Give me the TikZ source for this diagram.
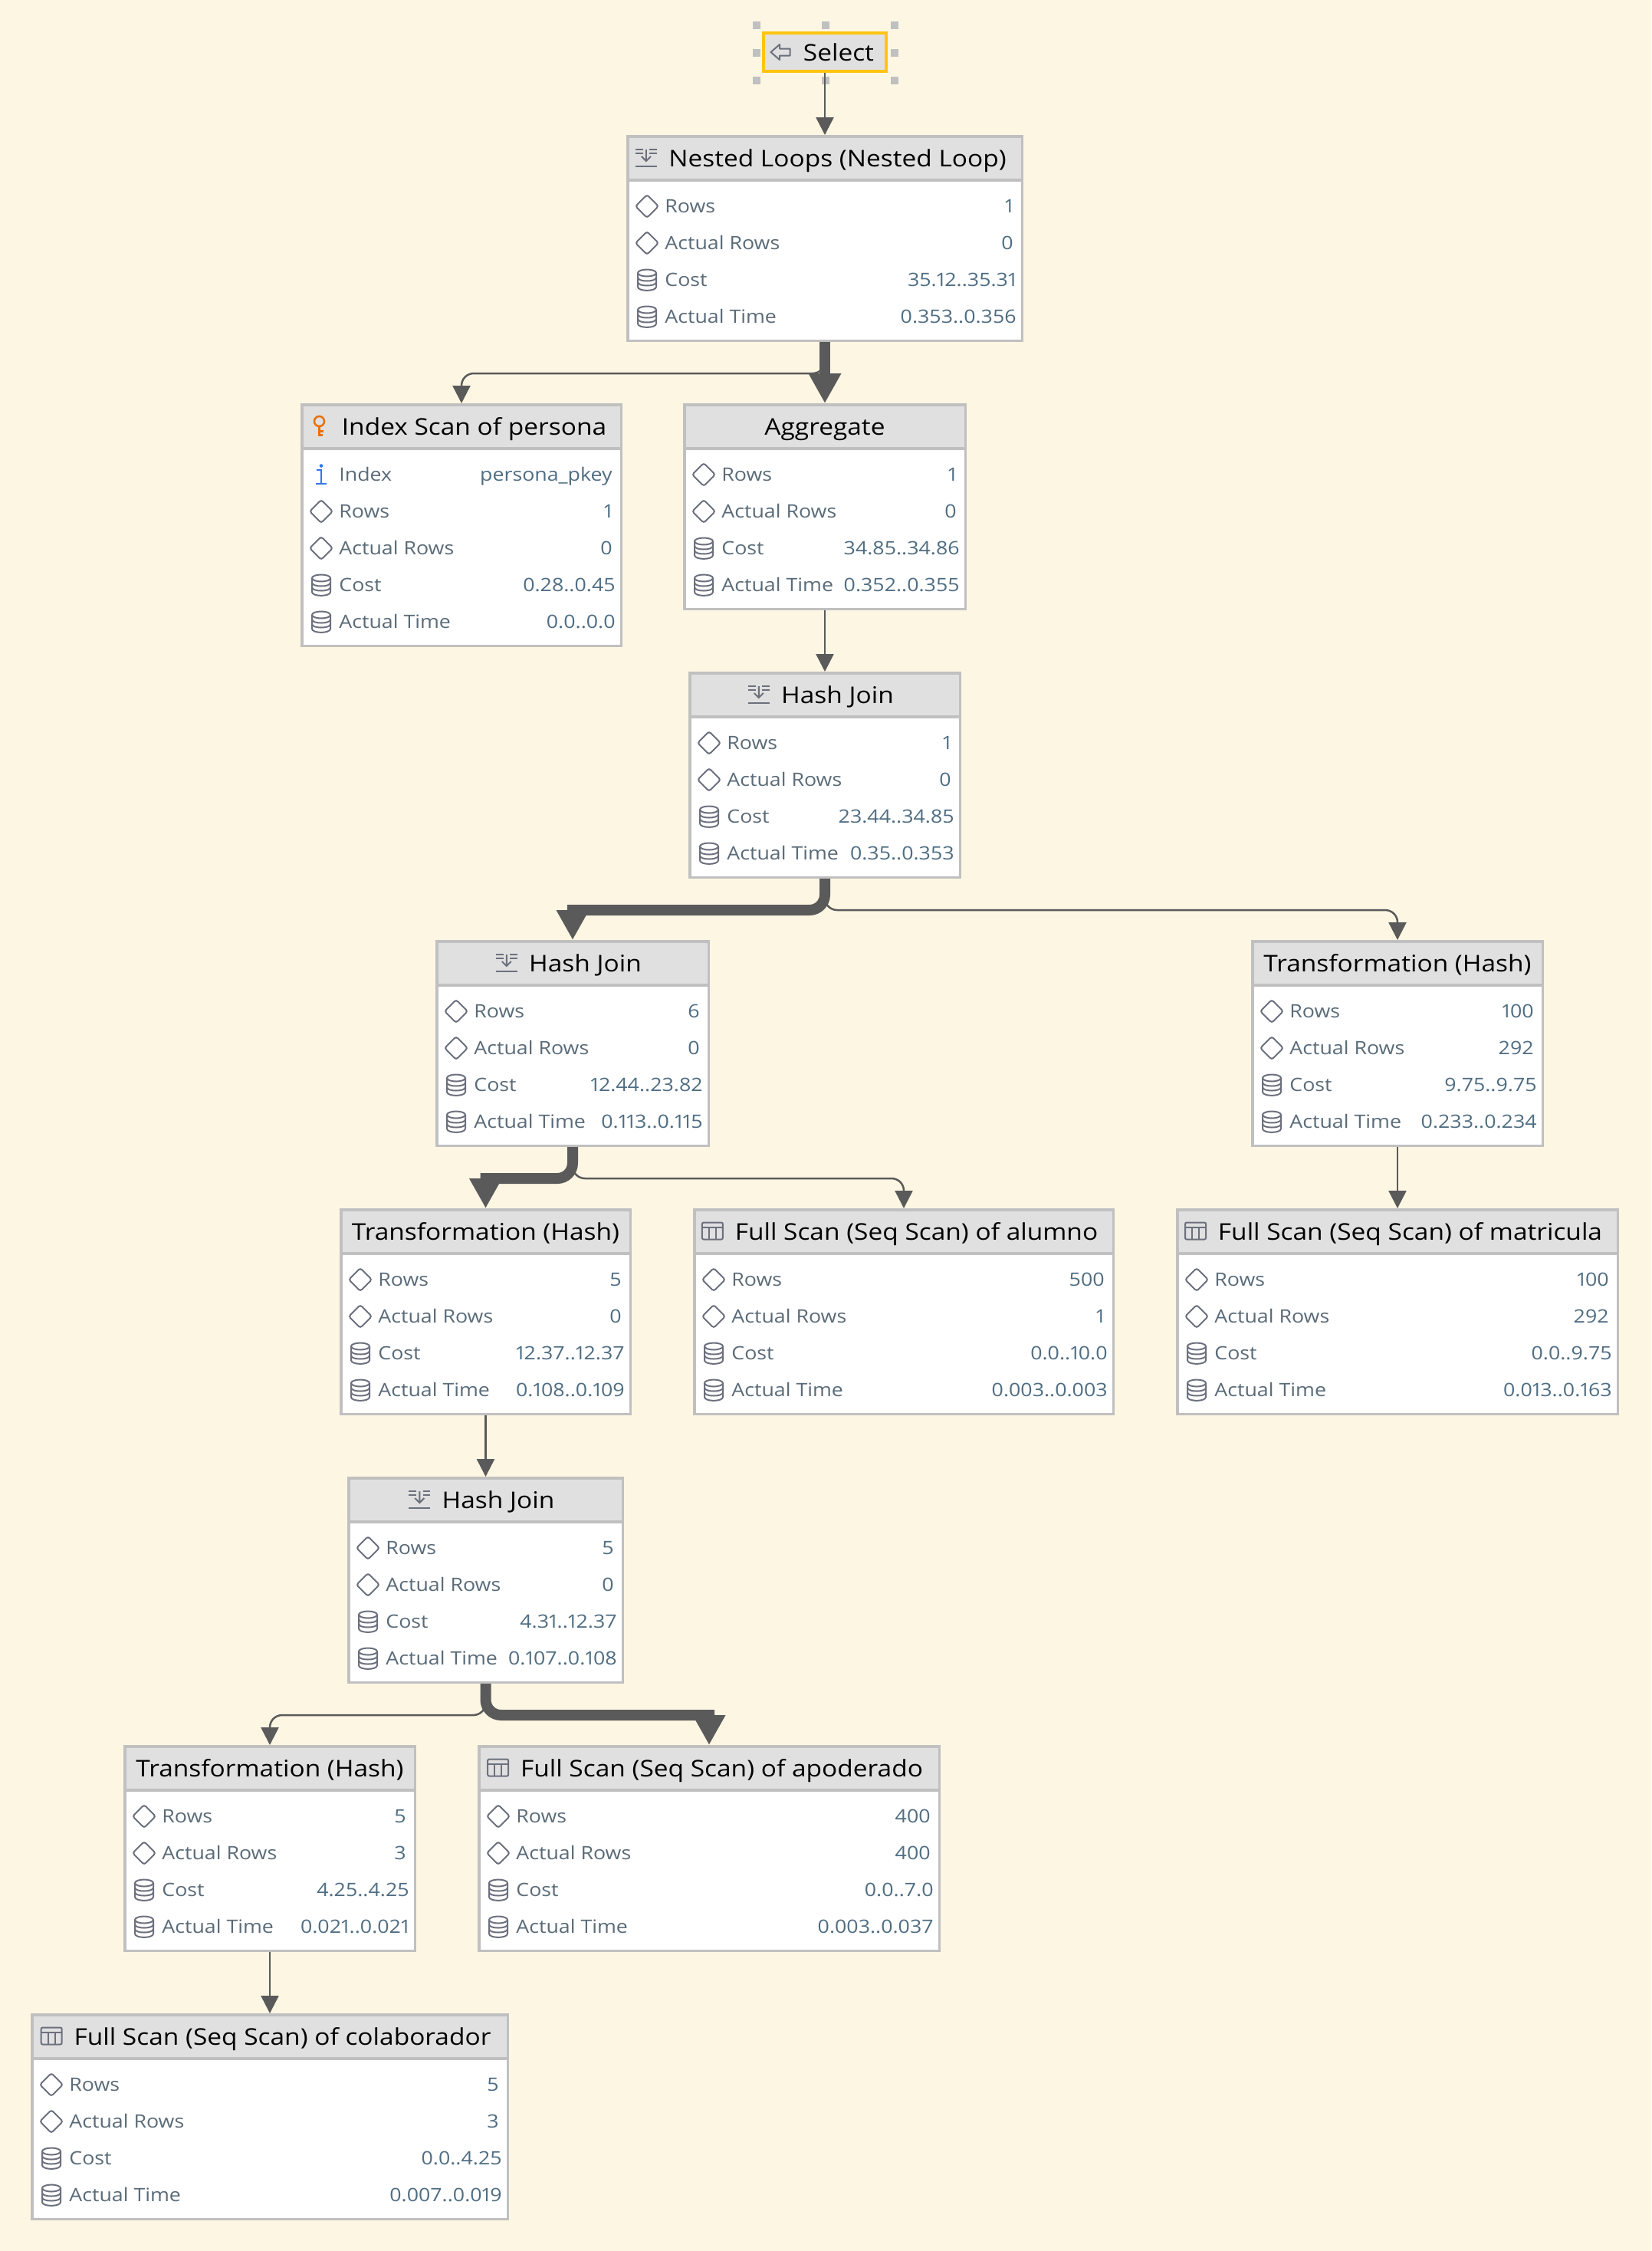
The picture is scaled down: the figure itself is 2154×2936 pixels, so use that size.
\documentclass[tikz,border=0pt]{standalone}
\usepackage{fontspec}
\setmainfont[FakeStretch=1.115,Numbers=Proportional]{Open Sans}
\usetikzlibrary{arrows.meta,calc}

\definecolor{paper}{HTML}{FDF6E3}
\definecolor{headgrey}{HTML}{E0E0E0}
\definecolor{edgegrey}{HTML}{C0C0C0}
\definecolor{flowgrey}{HTML}{5A5A5A}
\definecolor{icongrey}{HTML}{6C707E}
\definecolor{labelgrey}{HTML}{5A6B78}
\definecolor{valueblue}{HTML}{4F6D82}
\definecolor{pickyellow}{HTML}{FDC50F}
\definecolor{infoblue}{HTML}{3574F0}
\definecolor{keyorange}{HTML}{E8710A}

\tikzset{
  planbody/.style={draw=edgegrey,fill=white,line width=1.75pt,anchor=north west,inner sep=0pt},
  planhead/.style={draw=edgegrey,fill=headgrey,line width=1.75pt,anchor=north,inner sep=0pt,minimum height=28.5pt},
  plantitle/.style={anchor=base,inner sep=0pt,font=\fontsize{15}{18}\selectfont,text=black},
  rowlabel/.style={anchor=base west,inner sep=0pt,font=\fontsize{12}{14}\selectfont,text=labelgrey},
  rowvalue/.style={anchor=base east,inner sep=0pt,font=\fontsize{12}{14}\selectfont,text=valueblue},
  handle/.style={fill=edgegrey,minimum size=5pt,inner sep=0pt},
  iconline/.style={draw=icongrey,line width=1pt},
  flowthin/.style={draw=flowgrey,line width=1.25pt,rounded corners=8pt,-{Triangle[length=11.5pt,width=11.5pt]}},
  flowthick/.style={draw=flowgrey,line width=7pt,rounded corners=10pt,-{Triangle[length=19.5pt,width=20pt]}},
}

\newcommand{\icond}[1]{\draw[iconline,rounded corners=1.5pt,shift={(#1)}] (-15,0) -- (0,-15) -- (15,0) -- (0,15) -- cycle;}
\newcommand{\iconc}[1]{
  \draw[iconline,shift={(#1)}] (0,-9) ellipse [x radius=12,y radius=4.5];
  \draw[iconline,shift={(#1)}] (-12,-9) -- (-12,9) .. controls (-12,15.5) and (12,15.5) .. (12,9) -- (12,-9);
  \draw[iconline,shift={(#1)}] (-12,-3) .. controls (-12,3) and (12,3) .. (12,-3);
  \draw[iconline,shift={(#1)}] (-12,3) .. controls (-12,9) and (12,9) .. (12,3);
}
\newcommand{\iconi}[1]{
  \fill[infoblue,shift={(#1)}] (0,-11.5) circle (2.3);
  \draw[draw=infoblue,line width=1pt,shift={(#1)}] (-6.5,-6) -- (0,-6) -- (0,12) (-7,12) -- (7,12);
}
\newcommand{\iconk}[1]{
  \draw[draw=keyorange,line width=1.25pt,shift={(#1)}] (0,-6) circle (6.5);
  \draw[draw=keyorange,line width=1.25pt,shift={(#1)}] (0,1) -- (0,13) (0,7) -- (6,7) (0,12) -- (5,12);
}
\newcommand{\iconj}[1]{
  \draw[iconline,shift={(#1)}] (-14,-10.5) -- (-4,-10.5) (4.5,-10.5) -- (14,-10.5) (-14,-6) -- (-4,-6) (4.5,-6) -- (14,-6) (-14,11) -- (14,11);
  \draw[iconline,shift={(#1)}] (0,-10.5) -- (0,4.5) (-6,-1.5) -- (0,4.5) -- (6,-1.5);
}
\newcommand{\icont}[1]{
  \draw[iconline,rounded corners=1pt,shift={(#1)}] (-13.5,-11) rectangle (13.5,11);
  \draw[iconline,shift={(#1)}] (-13.5,-5) -- (13.5,-5) (-4.5,-5) -- (-4.5,11) (4.5,-5) -- (4.5,11);
}
\newcommand{\iconb}[1]{\draw[iconline,line join=round,shift={(#1)}] (-12.5,0) -- (-1,-10) -- (-1,-4.5) -- (12.5,-4.5) -- (12.5,4.5) -- (-1,4.5) -- (-1,10) -- cycle;}

% name, left, top, right, height, icon, title, rows
\newcommand{\planbox}[8]{
  \def\titleicon{#6}
  \ifx\titleicon\empty\def\titleshift{0}\else\def\titleshift{16.5}\fi
  \node[planbody,minimum width={(#4-#2-1.5)*0.5pt},minimum height={(#5-1.5)*0.5pt}] (#1) at (#2-1,#3-1) {};
  \node[planhead,minimum width={(#4-#2-1.5)*0.5pt}] (#1-h) at (#1.north) {};
  \node[plantitle] (#1-t) at ({(#2+#4)/2+\titleshift},#3+40) {#7};
  \ifx\titleicon\empty\else
    \coordinate (#1-i) at ($(#1-t.base west)+(-29,-11.5)$);
    \csname icon#6\endcsname{#1-i}
  \fi
  \foreach \ic/\lab/\val [count=\i] in {#8} {
    \if c\ic\def\vinset{8}\else\def\vinset{12}\fi
    \coordinate (#1-c\i) at (#2+26,#3+92+48*\i-48);
    \csname icon\ic\endcsname{#1-c\i}
    \node[rowlabel] (#1-l\i) at (#2+49,#3+100.5+48*\i-48) {\lab};
    \node[rowvalue] (#1-v\i) at (#4-\vinset,#3+100.5+48*\i-48) {\val};
  }
}

\begin{document}
\begin{tikzpicture}[x=0.5pt,y=-0.5pt]
  \fill[paper] (0,0) rectangle (2154,2936);
  \useasboundingbox (0,0) rectangle (2154,2936);

  \node[planbody,fill=headgrey,draw=pickyellow,line width=2pt,minimum width=80pt,minimum height=25pt] (select) at (994,41) {};
  \node[plantitle] (select-t) at (1094,79.5) {Select};
  \coordinate (select-i) at (1018,68);
  \iconb{select-i}
  \foreach \hx/\hy [count=\i] in {987/33,1077/33,1167/33,987/69,1167/69,987/105,1077/105,1167/105}
    \node[handle] (select-m\i) at (\hx,\hy) {};

  \planbox{nested}{818}{177}{1334}{268}{j}{Nested Loops (Nested Loop)}{d/Rows/1,d/Actual Rows/0,c/Cost/35.12..35.31,c/Actual Time/0.353..0.356}
  \planbox{index}{393}{527}{811}{316}{k}{Index Scan of persona}{i/Index/persona\_pkey,d/Rows/1,d/Actual Rows/0,c/Cost/0.28..0.45,c/Actual Time/0.0..0.0}
  \planbox{aggregate}{892}{527}{1260}{268}{}{Aggregate}{d/Rows/1,d/Actual Rows/0,c/Cost/34.85..34.86,c/Actual Time/0.352..0.355}
  \planbox{hashjoinA}{899}{877}{1253}{268}{j}{Hash Join}{d/Rows/1,d/Actual Rows/0,c/Cost/23.44..34.85,c/Actual Time/0.35..0.353}
  \planbox{hashjoinB}{569}{1227}{925}{268}{j}{Hash Join}{d/Rows/6,d/Actual Rows/0,c/Cost/12.44..23.82,c/Actual Time/0.113..0.115}
  \planbox{transA}{1633}{1227}{2013}{268}{}{Transformation (Hash)}{d/Rows/100,d/Actual Rows/292,c/Cost/9.75..9.75,c/Actual Time/0.233..0.234}
  \planbox{transB}{444}{1577}{823}{268}{}{Transformation (Hash)}{d/Rows/5,d/Actual Rows/0,c/Cost/12.37..12.37,c/Actual Time/0.108..0.109}
  \planbox{alumno}{905}{1577}{1453}{268}{t}{Full Scan (Seq Scan) of alumno}{d/Rows/500,d/Actual Rows/1,c/Cost/0.0..10.0,c/Actual Time/0.003..0.003}
  \planbox{matricula}{1535}{1577}{2111}{268}{t}{Full Scan (Seq Scan) of matricula}{d/Rows/100,d/Actual Rows/292,c/Cost/0.0..9.75,c/Actual Time/0.013..0.163}
  \planbox{hashjoinC}{454}{1927}{813}{268}{j}{Hash Join}{d/Rows/5,d/Actual Rows/0,c/Cost/4.31..12.37,c/Actual Time/0.107..0.108}
  \planbox{transC}{162}{2277}{542}{268}{}{Transformation (Hash)}{d/Rows/5,d/Actual Rows/3,c/Cost/4.25..4.25,c/Actual Time/0.021..0.021}
  \planbox{apoderado}{624}{2277}{1226}{268}{t}{Full Scan (Seq Scan) of apoderado}{d/Rows/400,d/Actual Rows/400,c/Cost/0.0..7.0,c/Actual Time/0.003..0.037}
  \planbox{colaborador}{41}{2627}{663}{268}{t}{Full Scan (Seq Scan) of colaborador}{d/Rows/5,d/Actual Rows/3,c/Cost/0.0..4.25,c/Actual Time/0.007..0.019}

  \draw[flowthin] (select.south) -- (nested.north);
  \draw[flowthin] (nested.south) -- ++(0,41) -| (index.north);
  \draw[flowthick] (nested.south) -- (aggregate.north);
  \draw[flowthin] (aggregate.south) -- (hashjoinA.north);
  \draw[flowthin] (hashjoinA.south) -- ++(0,41) -| (transA.north);
  \draw[flowthick] (hashjoinA.south) -- ++(0,41) [sharp corners] -| (hashjoinB.north);
  \draw[flowthin] (hashjoinB.south) -- ++(0,41) -| (alumno.north);
  \draw[flowthick] (hashjoinB.south) -- ++(0,41) [sharp corners] -| (transB.north);
  \draw[flowthin] (transA.south) -- (matricula.north);
  \draw[flowthin] (transB.south) -- (hashjoinC.north);
  \draw[flowthin] (hashjoinC.south) -- ++(0,41) -| (transC.north);
  \draw[flowthick] (hashjoinC.south) -- ++(0,41) [sharp corners] -| (apoderado.north);
  \draw[flowthin] (transC.south) -- (colaborador.north);
\end{tikzpicture}
\end{document}
